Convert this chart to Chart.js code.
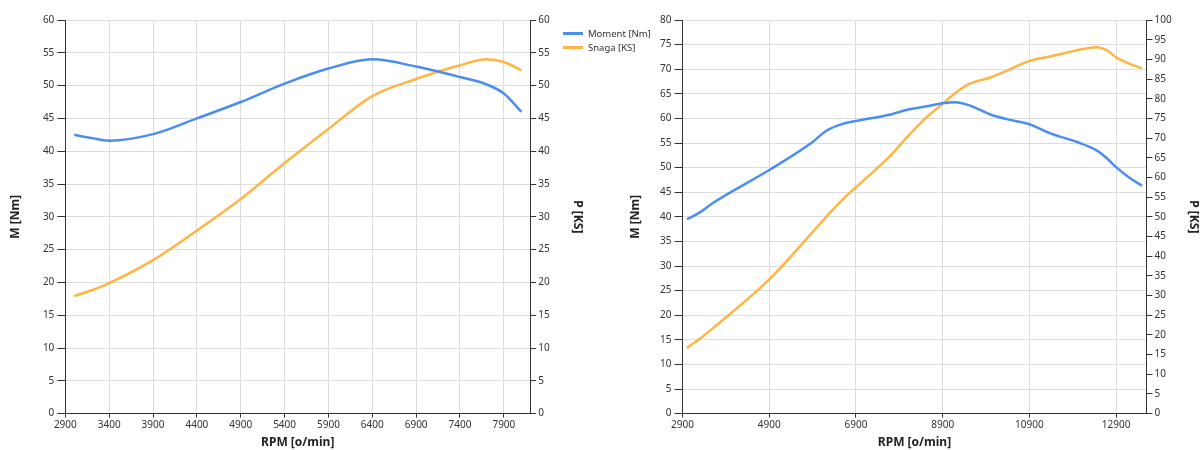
<!DOCTYPE html>
<html>
<head>
<meta charset="utf-8">
<script src="https://cdn.jsdelivr.net/npm/chart.js@4/dist/chart.umd.min.js"></script>
<style>
    html, body { margin: 0; padding: 0; background: #fff; }
    #wrap { position: relative; width: 1203px; height: 450px; }
    .box { position: absolute; top: 0; height: 450px; }
    #boxLeft { left: 0; width: 600px; }
    #boxRight { left: 615px; width: 588px; }
    #legend { position: absolute; left: 563px; top: 26px; font: 9.5px "Noto Sans", sans-serif; color: #333; }
    #legend .item { display: flex; align-items: center; height: 14px; white-space: nowrap; }
    #legend .line { display: inline-block; width: 20px; height: 3px; margin-right: 5px; }
</style>
</head>
<body>
<div id="wrap">
    <div class="box" id="boxLeft"><canvas id="grafLevo"></canvas></div>
    <div class="box" id="boxRight"><canvas id="grafDesno"></canvas></div>
    <div id="legend"></div>
</div>
<script>

// levi grafikon
const rpm1 = [3000, 3200, 3400, 3900, 4400, 4900, 5400, 5900, 6400, 6900, 7400, 7700, 7900, 8100];
const moment1 = [42.5, 42.0, 41.6, 42.6, 45.0, 47.5, 50.3, 52.6, 54.0, 52.9, 51.3, 50.2, 48.8, 46.0];
const snaga1 = [17.9, 18.8, 19.9, 23.4, 27.9, 32.7, 38.2, 43.4, 48.4, 51.0, 53.1, 54.0, 53.6, 52.3];
const xTicks1 = [2900, 3400, 3900, 4400, 4900, 5400, 5900, 6400, 6900, 7400, 7900];

// desni grafikon
const rpm2 = [3000, 3300, 3600, 4900, 5900, 6200, 6600, 6900, 7700, 8100, 8500, 8900, 9200, 9500,
    10000, 10400, 10900, 11400, 12000, 12450, 12700, 12900, 13200, 13500];
const moment2 = [39.5, 40.9, 42.8, 49.5, 55.2, 57.4, 58.9, 59.5, 60.8, 61.8, 62.4, 63.1, 63.3, 62.7,
    60.8, 59.8, 58.8, 56.9, 55.2, 53.5, 51.8, 50.1, 48.0, 46.3];
const snaga2 = [16.7, 19.0, 21.7, 34.1, 46.1, 49.8, 54.5, 57.5, 65.6, 70.5, 75.0, 78.7, 81.5, 83.7,
    85.4, 87.2, 89.6, 90.8, 92.3, 93.1, 92.2, 90.5, 88.9, 87.7];
const xTicks2 = [2900, 4900, 6900, 8900, 10900, 12900];

const plava = "#4a8ff0";
const narandzasta = "#ffb545";
const fontTick = { family: "Noto Sans", size: 10 };
const fontNaslov = { family: "Noto Sans", size: 12, weight: "bold" };

function napraviGrafikon(id, rpm, moment, snaga, xTicks, xMax, yMax, y2Max, padding, yPad, y2Pad) {

    const tacke = (vrednosti) =>
        rpm.map((r, i) => ({ x: r, y: vrednosti[i] }));

    return new Chart(document.getElementById(id), {
        type: "line",
        data: {
            datasets: [
                {
                    label: "Moment [Nm]",
                    data: tacke(moment),
                    borderColor: plava,
                    backgroundColor: plava,
                    borderWidth: 2.5,
                    pointRadius: 0,
                    cubicInterpolationMode: "monotone",
                    yAxisID: "y"
                },
                {
                    label: "Snaga [KS]",
                    data: tacke(snaga),
                    borderColor: narandzasta,
                    backgroundColor: narandzasta,
                    borderWidth: 2.5,
                    pointRadius: 0,
                    cubicInterpolationMode: "monotone",
                    yAxisID: "y2"
                }
            ]
        },
        options: {
            animation: false,
            responsive: true,
            maintainAspectRatio: false,
            layout: { padding: padding },
            plugins: {
                legend: { display: false },
                tooltip: { enabled: false }
            },
            scales: {
                x: {
                    type: "linear",
                    min: 2900,
                    max: xMax,
                    afterBuildTicks: s => {
                        s.ticks = xTicks.map(v => ({ value: v }));
                    },
                    ticks: {
                        autoSkip: false,
                        maxRotation: 0,
                        padding: 2,
                        color: "#333",
                        font: fontTick,
                        callback: v => String(v)
                    },
                    grid: { color: "#dddddd", tickColor: "#333", tickLength: 4 },
                    border: { color: "#333" },
                    title: {
                        display: true,
                        text: "RPM [o/min]",
                        color: "#222",
                        font: fontNaslov,
                        padding: { top: 2, bottom: 0 }
                    }
                },
                y: {
                    position: "left",
                    min: 0,
                    max: yMax,
                    ticks: { stepSize: 5, padding: 3, color: "#333", font: fontTick },
                    grid: { color: "#dddddd", tickColor: "#333", tickLength: 8 },
                    border: { color: "#333" },
                    title: {
                        display: true,
                        text: "M [Nm]",
                        color: "#222",
                        font: fontNaslov,
                        padding: yPad
                    }
                },
                y2: {
                    position: "right",
                    min: 0,
                    max: y2Max,
                    ticks: { stepSize: 5, padding: 2, color: "#333", font: fontTick },
                    grid: { drawOnChartArea: false, tickColor: "#333", tickLength: 6 },
                    border: { color: "#333" },
                    title: {
                        display: true,
                        text: "P [KS]",
                        color: "#222",
                        font: fontNaslov,
                        padding: y2Pad
                    }
                }
            }
        }
    });
}

const levi = napraviGrafikon("grafLevo", rpm1, moment1, snaga1, xTicks1, 8200, 60, 60,
    { top: 20, left: 4, right: 11, bottom: 0 },
    { top: 4, bottom: 17.5 }, { top: 4, bottom: 19 });

const desni = napraviGrafikon("grafDesno", rpm2, moment2, snaga2, xTicks2, 13600, 80, 100,
    { top: 20, left: 9, right: 0, bottom: 0 },
    { top: 4, bottom: 14.7 }, { top: 2, bottom: 13 });

// legenda
const legenda = document.getElementById("legend");
levi.data.datasets.forEach(ds => {
    const red = document.createElement("div");
    red.className = "item";
    red.innerHTML = `<span class="line" style="background:${ds.borderColor}"></span>${ds.label}`;
    legenda.appendChild(red);
});

</script>
</body>
</html>
